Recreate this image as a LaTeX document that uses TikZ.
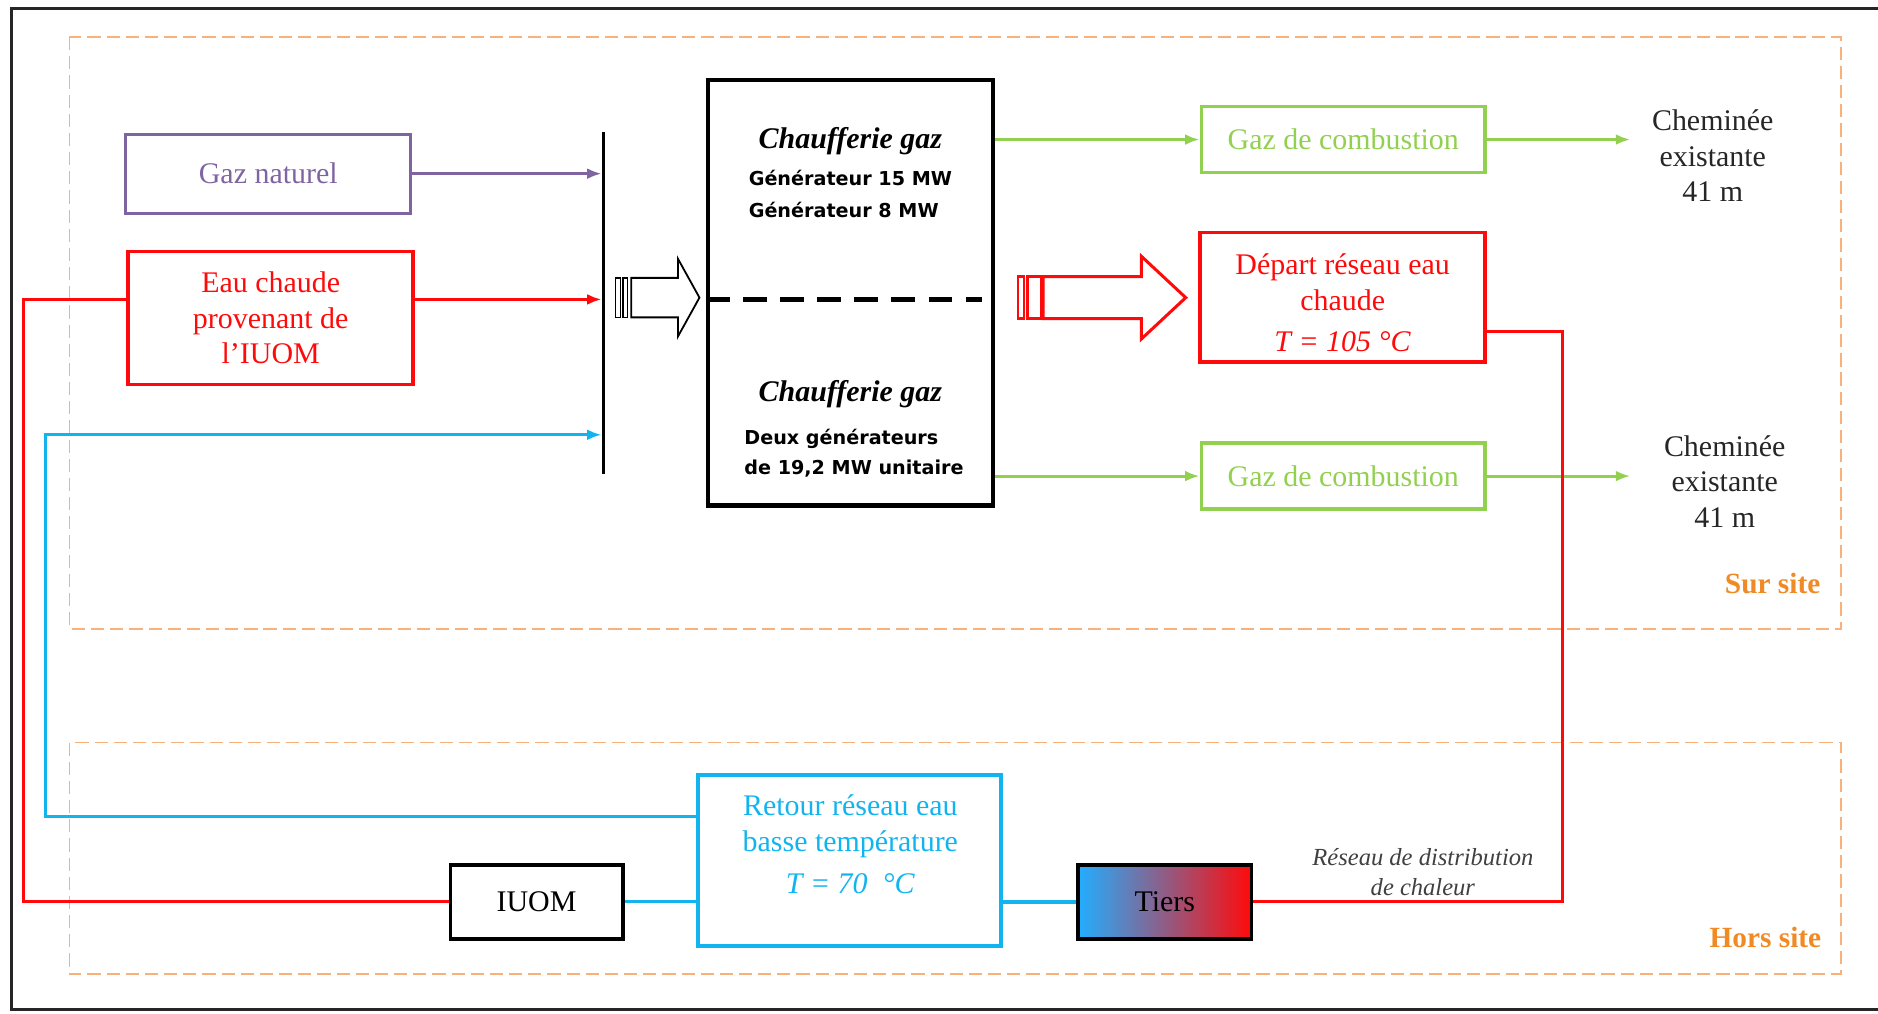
\documentclass[tikz,border=0pt]{standalone}
\usepackage{fontspec}
\setmainfont{Liberation Serif}
\newfontfamily\tahoma{DejaVu Sans}
\usetikzlibrary{arrows.meta}

\definecolor{gazviolet}{HTML}{8064A2}
\definecolor{rouge}{HTML}{FF0A0A}
\definecolor{bleu}{HTML}{12B4F0}
\definecolor{vert}{HTML}{92D050}
\definecolor{orangecadre}{HTML}{FAB07A}
\definecolor{orangetexte}{HTML}{F08A24}
\definecolor{tiersbleu}{HTML}{22AEFF}
\definecolor{tiersrose}{HTML}{DC86B0}

\begin{document}
\begin{tikzpicture}[x=1pt, y=-1pt, line join=miter,
  boite/.style={draw, line width=3pt, align=center, inner sep=0pt, font=\fontsize{25}{29.5}\selectfont},
  conn/.style={line width=2.4pt, -{Latex[length=12pt,width=9pt]}},
  ligne/.style={line width=2.4pt},
  zone/.style={draw=orangecadre, line width=1.5pt, dash pattern=on 11pt off 5pt},
  serif25/.style={font=\fontsize{25}{29.5}\selectfont, align=center},
  titre/.style={font=\bfseries\itshape\fontsize{25}{29}\selectfont},
  tahomab/.style={font=\tahoma\bfseries\fontsize{16}{26}\selectfont, align=left}]

  %% ════ cadre + zones ════
  \draw[line width=2.5pt, draw=black!85] (10,7) rectangle (1580,843);
  \draw[zone] (58,31) rectangle (1537,525);
  \draw[zone] (58,620) rectangle (1537,813);
  \node[text=orangetexte, font=\bfseries\fontsize{24.5}{29}\selectfont] (sursite) at (1480,487) {Sur site};
  \node[text=orangetexte, font=\bfseries\fontsize{24.5}{29}\selectfont] (horssite) at (1474,783) {Hors site};

  %% ════ entrées ════
  \node[boite, draw=gazviolet, text=gazviolet, line width=2.5pt, minimum width=238pt, minimum height=66pt] (gaz) at (224,145) {Gaz naturel};
  \node[boite, draw=rouge, text=rouge, minimum width=238pt, minimum height=111pt] (eau) at (226,265.5) {Eau chaude\\provenant de\\l’IUOM};
  \node[fill=black, inner sep=0pt, minimum width=3pt, minimum height=286pt] (barre) at (504,253) {};

  \draw[conn, gazviolet] (gaz.east) -- (barre.west |- gaz.east);
  \draw[conn, rouge] (eau.east |- 0,250) -- (barre.west |- 0,250);

  %% ════ chaufferie ════
  \node[draw, line width=3.5pt, minimum width=238pt, minimum height=355pt] (chauf) at (710,244.5) {};
  \node[titre] (titre1) at (710,118) {Chaufferie gaz};
  \node[tahomab] (gen1) at (710,162) {Générateur 15 MW\\Générateur 8 MW};
  \node[titre] (titre2) at (710,329) {Chaufferie gaz};
  \node[tahomab, font=\tahoma\bfseries\fontsize{16}{25}\selectfont] (gen2) at (713,378) {Deux générateurs\\de 19,2 MW unitaire};
  \draw[line width=4pt, dash pattern=on 20pt off 11pt] (chauf.west |- 0,250) -- (820,250);

  % flèche creuse noire (bus -> chaufferie)
  \draw[line width=1.2pt] (514,232) rectangle (518,265);
  \draw[line width=1.2pt] (520,232) rectangle (524,265);
  \draw[line width=1.5pt, fill=white] (527,232) -- (566,232) -- (566,216) -- (584,248.5)
    -- (566,281) -- (566,265) -- (527,265) -- cycle;

  %% ════ fumées ════
  \node[boite, draw=vert, text=vert, minimum width=237pt, minimum height=55pt] (comb1) at (1121.5,116.5) {Gaz de combustion};
  \node[boite, draw=vert, text=vert, minimum width=237pt, minimum height=55pt] (comb2) at (1121.5,397.5) {Gaz de combustion};
  \node[serif25, inner xsep=18pt, text=black!85] (chem1) at (1430,130) {Cheminée\\existante\\41 m};
  \node[serif25, inner xsep=28pt, text=black!85] (chem2) at (1440,402) {Cheminée\\existante\\41 m};

  \draw[conn, vert] (chauf.east |- comb1.west) -- (comb1.west);
  \draw[conn, vert] (chauf.east |- comb2.west) -- (comb2.west);
  \draw[conn, vert] (comb1.east) -- (chem1.west |- comb1.east);
  \draw[conn, vert] (comb2.east) -- (chem2.west |- comb2.east);

  %% ════ départ réseau ════
  \node[boite, draw=rouge, minimum width=238pt, minimum height=108pt] (depart) at (1121,248) {};
  \node[serif25, text=rouge] (departtxt) at (1121,253) {Départ réseau eau\\chaude\\[5pt]\textit{T = 105 °C}};

  % flèche creuse rouge (chaufferie -> départ)
  \draw[rouge, line width=2pt] (850,231) rectangle (855,266);
  \draw[rouge, line width=2pt] (858,231) rectangle (869,266);
  \draw[rouge, line width=2.5pt, fill=white] (871,231) -- (953,231) -- (953,214) -- (990,248.5)
    -- (953,283) -- (953,266) -- (871,266) -- cycle;

  %% ════ hors site ════
  \node[boite, draw=bleu, line width=3.5pt, minimum width=253pt, minimum height=143pt] (retour) at (709.5,718.5) {};
  \node[serif25, text=bleu] (retourtxt) at (710,705) {Retour réseau eau\\basse température\\[6pt]\textit{T = 70~~°C}};
  \node[boite, draw=black, line width=3pt, minimum width=144pt, minimum height=62pt] (iuom) at (448,753) {IUOM};
  \node[boite, draw=black, line width=3pt, minimum width=145pt, minimum height=62pt,
    left color=tiersbleu, middle color=tiersrose, right color=rouge] (tiers) at (972.5,753) {Tiers};
  \node[font=\itshape\fontsize{20.5}{25}\selectfont, align=center, text=black!75] (reseau) at (1188,728) {Réseau de distribution\\de chaleur};

  %% ════ conduites ════
  \draw[ligne, rouge] ([yshift=-29pt]depart.east) -- ++(63,0) |- (tiers.east);
  \draw[ligne, bleu, line width=3.5pt] (tiers.west) -- (retour.east |- tiers.west);
  \draw[ligne, bleu] (iuom.east) -- (retour.west |- iuom.east);
  \draw[ligne, rouge] (eau.west |- 0,250) -- ++(-86,0) |- (iuom.west);
  \draw[conn, bleu] (retour.west |- 0,682) -| (38,363) -- (barre.west |- 0,363);

  % page = taille de la référence
  \pgfresetboundingbox
  \path[use as bounding box] (0,0) rectangle (1568,846);
\end{tikzpicture}
\end{document}
